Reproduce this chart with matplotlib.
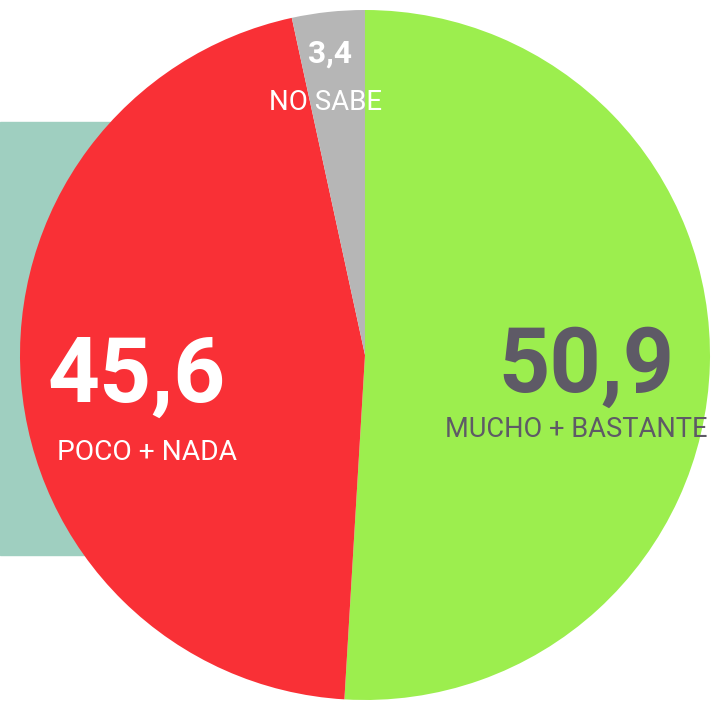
import matplotlib
matplotlib.use("Agg")
import matplotlib.pyplot as plt
from matplotlib.patches import Rectangle

labels = ["MUCHO + BASTANTE", "POCO + NADA", "NO SABE"]
values = [50.9, 45.6, 3.4]
value_labels = ["50,9", "45,6", "3,4"]
colors = ["#9cee4e", "#f93036", "#b6b6b6"]

W, H = 715, 702
fig = plt.figure(figsize=(W / 100, H / 100), dpi=100)
ax = fig.add_axes([0, 0, 1, 1])

fam = ["Roboto", "DejaVu Sans"]

ax.add_patch(Rectangle((0, H - 555), 110, 555 - 122, color="#9fcfc0", zorder=0))

ax.pie(values, colors=colors, startangle=90, counterclock=False,
       center=(365, H - 355), radius=345, frame=True,
       wedgeprops=dict(linewidth=0, zorder=1))
ax.set_xlim(0, W)
ax.set_ylim(0, H)
ax.set_aspect("equal")
ax.axis("off")

renderer = fig.canvas.get_renderer()

def t(x, y, s, width, color, weight="normal", maxsize=100):
    txt = ax.text(x, H - y, s, fontsize=40, color=color, weight=weight,
                  ha="center", va="baseline", family=fam, zorder=3)
    w = txt.get_window_extent(renderer).width
    txt.set_fontsize(min(maxsize, 40 * width / w))

t(586, 392, value_labels[0], 176, "#5e5a66", "bold")
t(576, 437, labels[0], 262, "#5e5a66")
t(137, 402, value_labels[1], 178, "white", "bold")
t(147, 460, labels[1], 180, "white")
t(330, 63, value_labels[2], 44, "white", "bold")
t(326, 110, labels[2], 113, "white")

fig.savefig("out.png", dpi=100)
